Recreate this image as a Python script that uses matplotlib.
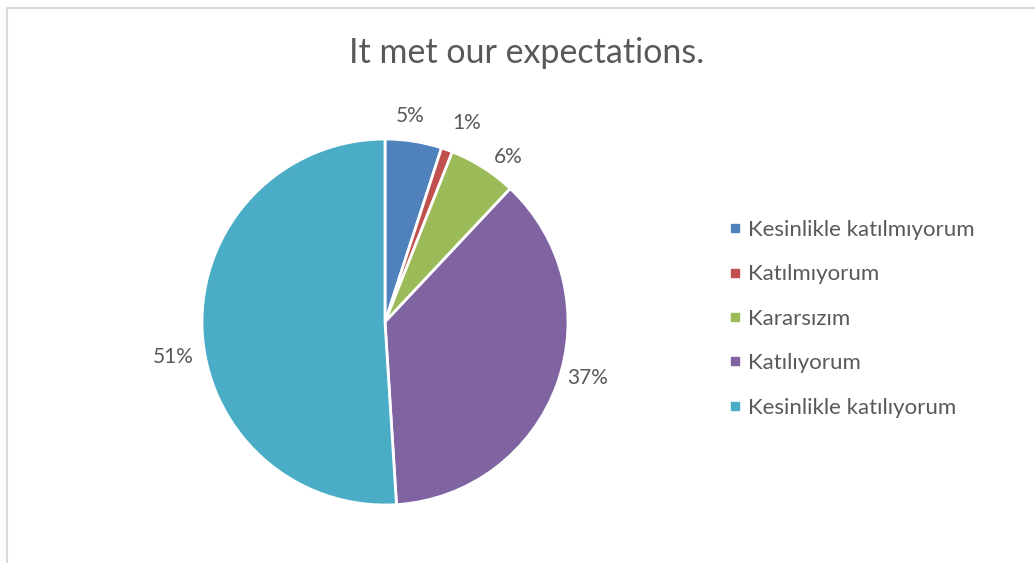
import matplotlib.pyplot as plt
from matplotlib.lines import Line2D
from matplotlib.patches import Rectangle

categories = ['Kesinlikle katılmıyorum', 'Katılmıyorum', 'Kararsızım',
              'Katılıyorum', 'Kesinlikle katılıyorum']
values = [5, 1, 6, 37, 51]
colors = ['#4F81BD', '#C0504D', '#9BBB59', '#8064A2', '#4BACC6']
title = 'It met our expectations.'

# best-fit nudges for the percent labels (pie radius units)
label_nudge = [(-0.043, -0.010), (0.058, 0.005), (0.056, -0.069),
               (0.027, 0.084), (-0.009, -0.155)]

plt.rcParams['font.family'] = ['Lato', 'DejaVu Sans']
text_color = '#595959'

W, H = 1035, 563
fig = plt.figure(figsize=(W / 100, H / 100), dpi=100)

# thin grey chart-area frame (only left/top edges visible)
fig.patches.append(Rectangle((7 / W, -0.1), 1.2, (H - 8) / H + 0.1,
                             transform=fig.transFigure, fill=False,
                             edgecolor='#D9D9D9', linewidth=1.5))

cx, cy, r = 385, 322, 183
ax = fig.add_axes([(cx - r) / W, (H - cy - r) / H, 2 * r / W, 2 * r / H])
wedges, texts = ax.pie(values, colors=colors, startangle=90, counterclock=False,
                       labels=['%d%%' % v for v in values], labeldistance=1.15,
                       wedgeprops=dict(edgecolor='white', linewidth=2))
for t, (dx, dy) in zip(texts, label_nudge):
    x, y = t.get_position()
    t.set_position((x + dx, y + dy))
    t.set_ha('center')
    t.set_va('center')
    t.set_fontsize(15)
    t.set_color(text_color)
ax.set_xlim(-1, 1)
ax.set_ylim(-1, 1)
ax.set_aspect('equal')
ax.axis('off')

fig.text(527 / W, 1 - 53 / H, title, ha='center', va='center',
         fontsize=24.5, color=text_color)

handles = [Line2D([], [], marker='s', linestyle='none', markersize=6,
                  markerfacecolor=c, markeredgecolor=c) for c in colors]
fig.legend(handles, categories, loc='upper left',
           bbox_to_anchor=(719 / W, 1 - 211 / H), frameon=False,
           fontsize=16, labelcolor=text_color, handlelength=0.6,
           handletextpad=0.3, labelspacing=1.1, borderaxespad=0)

plt.savefig('out.png', dpi=100)
